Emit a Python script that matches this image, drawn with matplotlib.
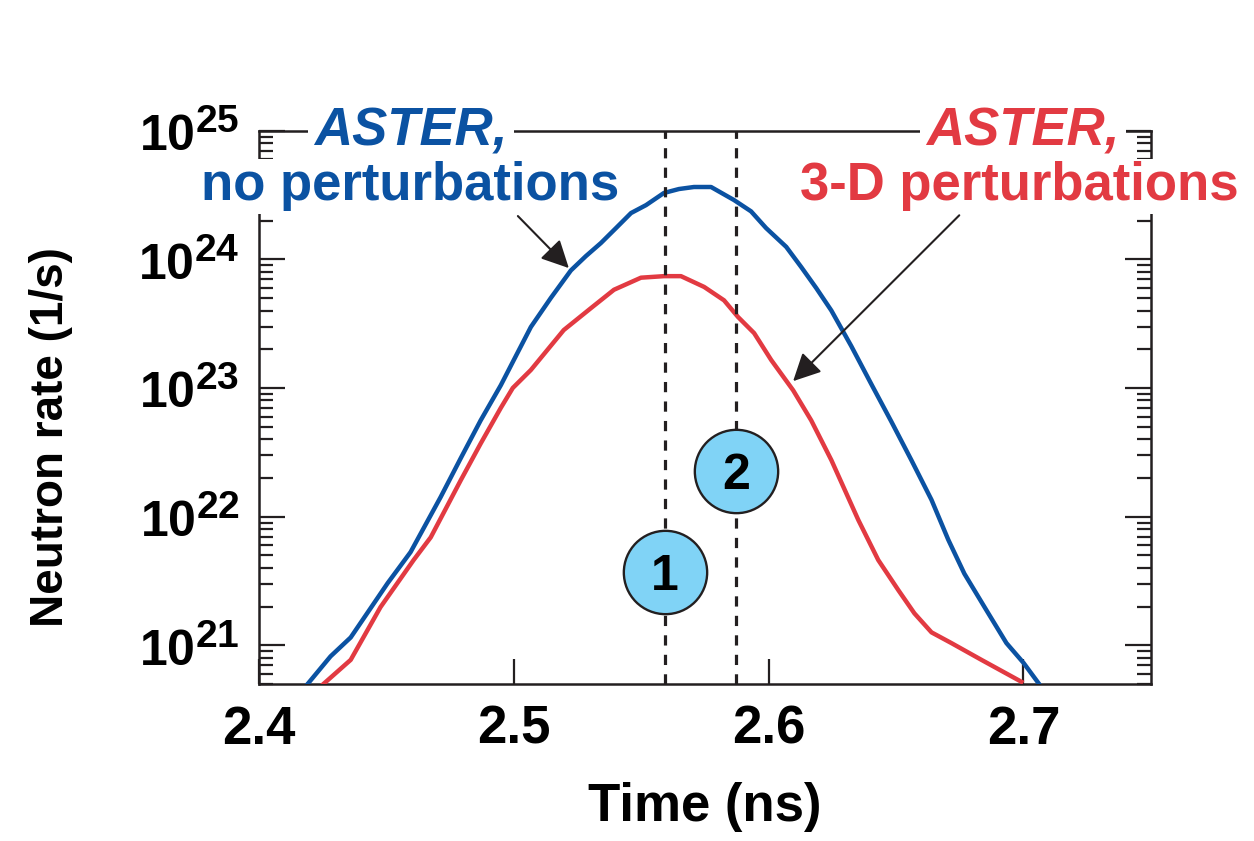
import matplotlib
matplotlib.use("Agg")
import matplotlib.pyplot as plt
import matplotlib._mathtext as _mt
import numpy as np

plt.rcParams['font.family'] = ['Liberation Sans', 'DejaVu Sans']
plt.rcParams['font.weight'] = 'bold'
plt.rcParams['mathtext.fontset'] = 'custom'
plt.rcParams['mathtext.bf'] = 'Liberation Sans:bold'
plt.rcParams['mathtext.rm'] = 'Liberation Sans:bold'
try:
    _mt.SHRINK_FACTOR = 0.78
except Exception:
    pass

# ---------------- data ----------------
t_blue = [2.4191, 2.4281, 2.4360, 2.4505, 2.4595, 2.4713, 2.4792, 2.4870, 2.4949,
          2.5008, 2.5067, 2.5145, 2.5224, 2.5283, 2.5342, 2.5401, 2.5460, 2.5519,
          2.5589, 2.5648, 2.5707, 2.5774, 2.5864, 2.5931, 2.5990, 2.6069, 2.6128,
          2.6187, 2.6246, 2.6324, 2.6403, 2.6481, 2.6560, 2.6639, 2.6705, 2.6768,
          2.6854, 2.6933, 2.7000, 2.7059]
r_blue = [5.0e20, 8.2e20, 1.15e21, 3.04e21, 5.3e21, 1.42e22, 2.85e22, 5.6e22, 1.05e23,
          1.77e23, 2.98e23, 5.0e23, 8.2e23, 1.06e24, 1.34e24, 1.75e24, 2.29e24, 2.64e24,
          3.28e24, 3.52e24, 3.65e24, 3.65e24, 2.89e24, 2.36e24, 1.75e24, 1.25e24, 8.7e23,
          5.97e23, 4.0e23, 2.12e23, 1.07e23, 5.5e22, 2.75e22, 1.35e22, 6.6e21, 3.6e21,
          1.88e21, 1.04e21, 7.3e20, 5.07e20]

t_red = [2.4253, 2.4360, 2.4477, 2.4607, 2.4674, 2.4792, 2.4870, 2.4949, 2.4996,
         2.5067, 2.5196, 2.5303, 2.5393, 2.5499, 2.5589, 2.5656, 2.5747, 2.5825,
         2.5880, 2.5943, 2.6010, 2.6096, 2.6167, 2.6246, 2.6352, 2.6430, 2.6509,
         2.6572, 2.6639, 2.6717, 2.6835, 2.6992]
r_red = [5.0e20, 7.7e20, 1.98e21, 4.6e21, 6.9e21, 1.92e22, 3.7e22, 7.0e22, 1.0e23,
         1.38e23, 2.82e23, 4.18e23, 5.8e23, 7.2e23, 7.4e23, 7.4e23, 6.1e23, 4.8e23,
         3.56e23, 2.67e23, 1.65e23, 9.6e22, 5.6e22, 2.75e22, 9.4e21, 4.6e21, 2.68e21,
         1.77e21, 1.26e21, 1.04e21, 7.7e20, 5.2e20]

marker_times = [2.5593, 2.5872]
marker_rates = [3.7e21, 2.26e22]
marker_labels = ['1', '2']

x_ticks = [2.4, 2.5, 2.6, 2.7]
x_ticklabels = ['2.4', '2.5', '2.6', '2.7']
y_ticks = [1e21, 1e22, 1e23, 1e24, 1e25]
y_ticklabels = [r'$\mathbf{10^{21}}$', r'$\mathbf{10^{22}}$', r'$\mathbf{10^{23}}$',
                r'$\mathbf{10^{24}}$', r'$\mathbf{10^{25}}$']

BLUE = '#0b52a2'
RED = '#e23a42'
DARK = '#231f20'
CIRC = '#80d3f6'

fig = plt.figure(figsize=(12.54, 8.41), dpi=100)
ax = fig.add_axes([0.2065, 0.1867, 0.7113, 0.6579])
ax.set_yscale('log')
ax.set_xlim(2.4, 2.75)
ax.set_ylim(5e20, 1e25)

ax.plot(t_blue, r_blue, color=BLUE, lw=3.2, zorder=3, solid_joinstyle='round')
ax.plot(t_red, r_red, color=RED, lw=3.2, zorder=3, solid_joinstyle='round')

for xt in marker_times:
    ax.axvline(xt, color=DARK, lw=2.3, linestyle=(0, (3.2, 2.9)), zorder=3.5)

ax.scatter(marker_times, marker_rates, s=3600, facecolor=CIRC, edgecolor=DARK,
           linewidths=1.7, zorder=4)
for xt, yr, lab in zip(marker_times, marker_rates, marker_labels):
    ax.annotate(lab, (xt, yr), xytext=(0, -13), textcoords='offset points',
                ha='center', va='baseline', fontsize=36, fontweight='bold',
                color='black', zorder=4.5)

for sp in ax.spines.values():
    sp.set_color(DARK)
    sp.set_linewidth(1.8)

ax.set_xticks(x_ticks)
ax.set_xticklabels(x_ticklabels)
ax.set_yticks(y_ticks)
ax.set_yticklabels(y_ticklabels)
ax.yaxis.set_minor_locator(matplotlib.ticker.LogLocator(base=10, subs=np.arange(2, 10)))
ax.yaxis.set_minor_formatter(matplotlib.ticker.NullFormatter())
ax.tick_params(axis='y', which='major', direction='in', length=19, width=1.6,
               left=True, right=True, labelsize=36, pad=14, color=DARK)
ax.tick_params(axis='y', which='minor', direction='in', length=10, width=1.6,
               left=True, right=True, color=DARK)
ax.tick_params(axis='x', which='major', direction='in', length=18, width=1.6,
               top=False, bottom=True, labelsize=38, pad=15, color=DARK)
ax.tick_params(axis='x', which='minor', bottom=False, top=False)

ax.set_xlabel('Time (ns)', fontsize=38, fontweight='bold')
ax.xaxis.set_label_coords(0.5, -0.178)
fig.text(51 / 1254, 1 - 437 / 841, 'Neutron rate (1/s)', rotation=90, ha='center',
         va='center', fontsize=33, fontweight='bold')

box = dict(facecolor='white', edgecolor='none', boxstyle='square,pad=0.12')
box2 = dict(facecolor='white', edgecolor='none', boxstyle='square,pad=0.05')
ax.text(0.170, 0.973, 'ASTER,', transform=ax.transAxes, ha='center', va='baseline',
        fontsize=38, fontweight='bold', fontstyle='italic', color=BLUE, bbox=box, zorder=6)
ax.text(0.170, 0.874, 'no perturbations', transform=ax.transAxes, ha='center',
        va='baseline', fontsize=38, fontweight='bold', color=BLUE, bbox=box2, zorder=7)
ax.text(0.8565, 0.973, 'ASTER,', transform=ax.transAxes, ha='center', va='baseline',
        fontsize=38, fontweight='bold', fontstyle='italic', color=RED, bbox=box, zorder=6)
ax.text(0.853, 0.874, '3-D perturbations', transform=ax.transAxes, ha='center',
        va='baseline', fontsize=38, fontweight='bold', color=RED, bbox=box2, zorder=7)

arrow = dict(arrowstyle='-|>', mutation_scale=42, lw=1.5, color=DARK,
             shrinkA=0, shrinkB=0)
ax.annotate('', xy=(2.5216, 8.55e23), xytext=(2.5016, 2.17e24), arrowprops=arrow,
            zorder=8, annotation_clip=False)
ax.annotate('', xy=(2.6096, 1.13e23), xytext=(2.6748, 2.2e24), arrowprops=arrow,
            zorder=8, annotation_clip=False)

fig.savefig('out.png', dpi=100)
